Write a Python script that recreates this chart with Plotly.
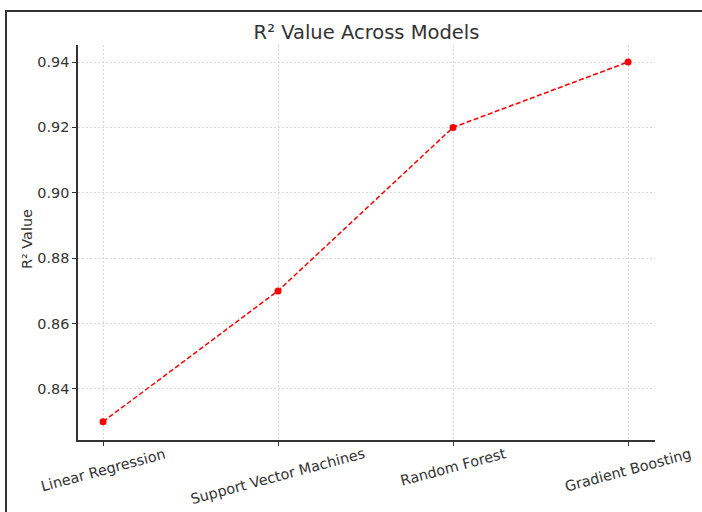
import plotly.graph_objects as go

models = ["Linear Regression", "Support Vector Machines", "Random Forest", "Gradient Boosting"]
r2_values = [0.83, 0.87, 0.92, 0.94]
y_ticks = [0.84, 0.86, 0.88, 0.90, 0.92, 0.94]
y_label = "R² Value"
title_text = "R² Value Across Models"

W, H = 702, 512
L, R, T, B = 78, 655, 45, 440
pw, ph = R - L, B - T

def px_x(p):
    return (p - L) / pw

def px_y(p):
    return (B - p) / ph

FONT = "DejaVu Sans"
TXT = "#333333"
GRID = "#d9d9d9"

fig = go.Figure()
fig.add_trace(go.Scatter(
    x=list(range(len(models))), y=r2_values, mode="lines+markers",
    line=dict(color="red", width=1.5, dash="5px,2.5px"),
    marker=dict(color="red", size=7),
    showlegend=False, hoverinfo="skip",
))

for i, m in enumerate(models):
    fig.add_annotation(
        x=i, xref="x", y=px_y(443), yref="paper",
        text=m, textangle=-15, showarrow=False,
        xanchor="center", yanchor="top",
        font=dict(family=FONT, size=14.4, color=TXT),
    )

fig.add_annotation(
    x=px_x(27), xref="paper", y=px_y(239), yref="paper",
    text=y_label, textangle=-90, showarrow=False,
    xanchor="center", yanchor="middle",
    font=dict(family=FONT, size=14.4, color=TXT),
)

fig.add_shape(type="rect", xref="paper", yref="paper",
              x0=px_x(6), x1=px_x(704), y0=px_y(514), y1=px_y(11),
              line=dict(color="#333333", width=2), fillcolor="rgba(0,0,0,0)", layer="above")

fig.update_layout(
    width=W, height=H,
    margin=dict(l=L, r=W - R, t=T, b=H - B),
    paper_bgcolor="white", plot_bgcolor="white",
    title=dict(text=title_text, x=(L + R) / 2 / W, xanchor="center",
               y=1 - 32 / H, yanchor="middle",
               font=dict(family=FONT, size=19.5, color=TXT)),
    font=dict(family=FONT, color=TXT),
    xaxis=dict(
        range=[-0.143, 3.154], tickmode="array", tickvals=list(range(len(models))),
        showticklabels=False, ticks="outside", ticklen=4, tickcolor="#333333",
        showline=True, linecolor="#333333", linewidth=1.5, mirror=False,
        showgrid=True, gridcolor=GRID, griddash="2px,2px", gridwidth=0.8,
        zeroline=False, fixedrange=True, automargin=False,
    ),
    yaxis=dict(
        range=[0.8244, 0.9452], tickmode="array", tickvals=y_ticks,
        ticktext=[f"{v:.2f}" for v in y_ticks],
        ticks="outside", ticklen=4, tickcolor="#333333",
        tickfont=dict(family=FONT, size=14.4, color=TXT),
        showline=True, linecolor="#333333", linewidth=1.5, mirror=False,
        showgrid=True, gridcolor=GRID, griddash="2px,2px", gridwidth=0.8,
        zeroline=False, fixedrange=True, automargin=False,
    ),
)

fig.write_html("out.html", config={"displayModeBar": False},
               post_script="document.body.style.margin='0';document.body.style.overflow='hidden';")
